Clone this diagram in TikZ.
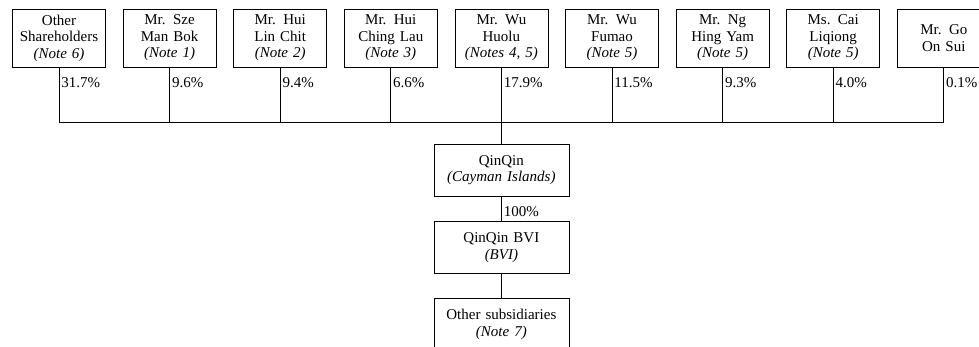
\documentclass[tikz,border=0pt]{standalone}
\usepackage{fontspec}
\setmainfont{Liberation Serif}
\usepackage{tikz}
\tikzstyle{holder box}  = [draw,text width=85pt,minimum height=58pt,inner sep=4pt,align=center]
\tikzstyle{company box} = [draw,text width=127pt,minimum height=52pt,inner sep=4pt,align=center]
\tikzstyle{share}       = [anchor=north west,inner sep=2pt,yshift=-8pt]
\usetikzlibrary{positioning}

\begin{document}
\begin{tikzpicture}[x=1pt,y=-1pt,
                    font=\fontsize{15}{16.5}\selectfont,
                    line width=0.8pt,
                    node distance=16.8pt
                    ]
    \useasboundingbox (0,0) rectangle (979,346);
    \clip (0,0) rectangle (979,346);

    % Shareholders, left to right
    \node(other)[holder box] at (59,38) {Other\\Shareholders\\\textit{(Note 6)}};
    \node(sze)[holder box, right=of other] {Mr. Sze\\Man Bok\\\textit{(Note 1)}};
    \node(huilin)[holder box, right=of sze] {Mr. Hui\\Lin Chit\\\textit{(Note 2)}};
    \node(huiching)[holder box, right=of huilin] {Mr. Hui\\Ching Lau\\\textit{(Note 3)}};
    \node(huolu)[holder box, right=of huiching] {Mr. Wu\\Huolu\\\textit{(Notes 4, 5)}};
    \node(fumao)[holder box, right=of huolu] {Mr. Wu\\Fumao\\\textit{(Note 5)}};
    \node(ng)[holder box, right=of fumao] {Mr. Ng\\Hing Yam\\\textit{(Note 5)}};
    \node(cai)[holder box, right=of ng] {Ms. Cai\\Liqiong\\\textit{(Note 5)}};
    \node(go)[holder box, right=of cai] {Mr. Go\\On Sui};

    % Where the holdings meet
    \coordinate(bus) at (huolu.south |- 0,122);

    % Group companies
    \node(qinqin)[company box] at (bus |- 0,170) {QinQin\\\textit{(Cayman Islands)}};
    \node(bvi)[company box, below=25pt of qinqin] {QinQin BVI\\\textit{(BVI)}};
    \node(subs)[company box, below=24pt of bvi] {Other subsidiaries\\\textit{(Note 7)}};

    % Holdings
    \draw(other.south) node[share]{31.7\%} |- (bus);
    \draw(sze.south) node[share]{9.6\%} |- (bus);
    \draw(huilin.south) node[share]{9.4\%} |- (bus);
    \draw(huiching.south) node[share]{6.6\%} |- (bus);
    \draw(fumao.south) node[share]{11.5\%} |- (bus);
    \draw(ng.south) node[share]{9.3\%} |- (bus);
    \draw(cai.south) node[share]{4.0\%} |- (bus);
    \draw(go.south) node[share]{0.1\%} |- (bus);
    \draw(huolu.south) node[share]{17.9\%} -- (qinqin.north);

    \draw(qinqin.south) node[share]{100\%} -- (bvi.north);
    \draw(bvi.south) -- (subs.north);

\end{tikzpicture}
\end{document}
